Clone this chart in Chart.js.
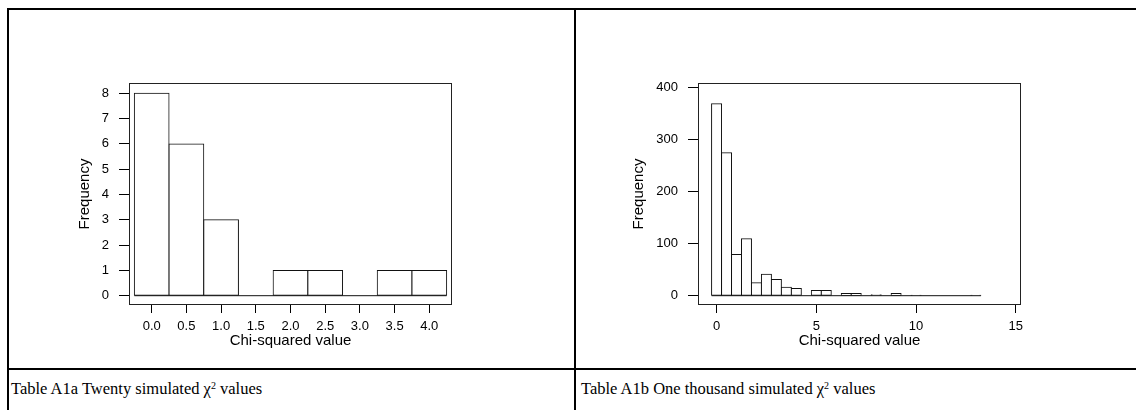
<!DOCTYPE html>
<html><head><meta charset="utf-8">
<script src="https://cdn.jsdelivr.net/npm/chart.js@4"></script>
<style>
html,body{margin:0;padding:0;background:#fff;}
#page{position:relative;width:1136px;height:410px;overflow:hidden;background:#fff;}
.ln{position:absolute;background:#000;}
canvas{position:absolute;}
.cap{position:absolute;font-family:"Liberation Serif","Times New Roman",serif;font-size:16.5px;line-height:18px;color:#000;white-space:nowrap;}
.cap sup{font-size:10px;vertical-align:top;position:relative;top:-3px;}
</style></head>
<body><div id="page">
<div class="ln" style="left:7px;top:8px;width:1136px;height:2px"></div>
<div class="ln" style="left:7px;top:8px;width:2px;height:410px"></div>
<div class="ln" style="left:574px;top:8px;width:2px;height:410px"></div>
<div class="ln" style="left:7px;top:368px;width:1136px;height:2px"></div>
<canvas id="c1" width="420" height="290" style="left:60px;top:70px"></canvas>
<canvas id="c2" width="430" height="290" style="left:620px;top:70px"></canvas>
<div class="cap" style="left:11px;top:380px">Table A1a Twenty simulated χ<sup>2</sup> values</div>
<div class="cap" style="left:581px;top:380px">Table A1b One thousand simulated χ<sup>2</sup> values</div>
</div>
<script>
// ---- data ----
const binWidth = 0.5;
const leftBinCenters = [0.0, 0.5, 1.0, 1.5, 2.0, 2.5, 3.0, 3.5, 4.0];
const leftCounts     = [8, 6, 3, 0, 1, 1, 0, 1, 1];
const leftXTicks      = [0, 0.5, 1, 1.5, 2, 2.5, 3, 3.5, 4];
const leftXTickLabels = ['0.0','0.5','1.0','1.5','2.0','2.5','3.0','3.5','4.0'];
const leftYTicks      = [0, 1, 2, 3, 4, 5, 6, 7, 8];

const rightBinCenters = [0, 0.5, 1, 1.5, 2, 2.5, 3, 3.5, 4, 4.5, 5, 5.5, 6, 6.5, 7, 7.5, 8, 8.5, 9, 9.5, 10, 10.5, 11, 11.5, 12, 12.5, 13];
const rightCounts     = [368, 274, 79, 109, 25, 41, 31, 16, 14, 0, 10, 10, 0, 4, 4, 0, 2, 0, 4, 0, 1, 0, 0, 0, 0, 0, 1];
const rightXTicks      = [0, 5, 10, 15];
const rightXTickLabels = ['0', '5', '10', '15'];
const rightYTicks      = [0, 100, 200, 300, 400];

const xTitle = 'Chi-squared value';
const yTitle = 'Frequency';

// ---- drawing ----
const frame = {
  id: 'frame',
  afterDraw(chart) {
    const {ctx, chartArea: a} = chart;
    ctx.save();
    ctx.strokeStyle = '#222';
    ctx.lineWidth = 1;
    ctx.strokeRect(Math.round(a.left) + 0.5, Math.round(a.top) + 0.5,
                   Math.round(a.right - a.left) - 1, Math.round(a.bottom - a.top) - 1);
    ctx.restore();
  }
};

const FONT = "'Liberation Sans', Arial, sans-serif";

function makeHist(id, centers, counts, cfg) {
  const last = centers.length - 1;
  return new Chart(document.getElementById(id), {
    type: 'bar',
    data: {
      datasets: [
        {
          type: 'bar',
          data: centers.map((x, i) => ({x: x, y: counts[i]})),
          backgroundColor: '#fff',
          borderColor: '#111',
          borderWidth: 1,
          borderSkipped: false,
          barPercentage: 1,
          categoryPercentage: 1,
          inflateAmount: 0.5,
          order: 2
        },
        {
          type: 'line',
          data: [{x: centers[0] - binWidth / 2, y: 0}, {x: centers[last] + binWidth / 2, y: 0}],
          borderColor: '#111',
          borderWidth: 1,
          pointRadius: 0,
          order: 1
        }
      ]
    },
    options: {
      responsive: false,
      animation: false,
      layout: {padding: {top: cfg.padTop, right: cfg.padRight, left: 0, bottom: 0}},
      plugins: {legend: {display: false}, tooltip: {enabled: false}},
      scales: {
        x: {
          type: 'linear', min: cfg.xMin, max: cfg.xMax, offset: false,
          afterBuildTicks: s => { s.ticks = cfg.xTicks.map(v => ({value: v})); },
          afterFit: s => { s.height = cfg.xAxisH; s.paddingLeft = 0; s.paddingRight = 0; },
          ticks: {autoSkip: false, maxRotation: 0, padding: 6, color: '#000',
                  font: {family: FONT, size: 13},
                  callback: (v, i) => cfg.xLabels[i]},
          grid: {display: true, drawOnChartArea: false, drawTicks: true, tickLength: 8,
                 color: '#000', offset: false},
          border: {display: false},
          title: {display: true, text: xTitle, color: '#000',
                  font: {family: FONT, size: 15}, padding: {top: 0, bottom: 10}}
        },
        y: {
          type: 'linear', min: cfg.yMin, max: cfg.yMax,
          afterBuildTicks: s => { s.ticks = cfg.yTicks.map(v => ({value: v})); },
          afterFit: s => { s.width = cfg.yAxisW; s.paddingTop = 0; s.paddingBottom = 0; },
          ticks: {padding: 10, color: '#000', font: {family: FONT, size: 13},
                  callback: v => String(v)},
          grid: {display: true, drawOnChartArea: false, drawTicks: true, tickLength: 10,
                 color: '#000'},
          border: {display: false},
          title: {display: true, text: yTitle, color: '#000',
                  font: {family: FONT, size: 15}, padding: {top: cfg.yTitlePad, bottom: 0}}
        }
      }
    },
    plugins: [frame]
  });
}

makeHist('c1', leftBinCenters, leftCounts, {
  padTop: 13, padRight: 28, yAxisW: 69, xAxisH: 55,
  xMin: -0.327, xMax: 4.327, yMin: -0.368, yMax: 8.407,
  xTicks: leftXTicks, xLabels: leftXTickLabels, yTicks: leftYTicks, yTitlePad: 16
});
makeHist('c2', rightBinCenters, rightCounts, {
  padTop: 13, padRight: 29, yAxisW: 78, xAxisH: 55,
  xMin: -0.93, xMax: 15.26, yMin: -17.85, yMax: 407.7,
  xTicks: rightXTicks, xLabels: rightXTickLabels, yTicks: rightYTicks, yTitlePad: 10
});
</script>
</body></html>
